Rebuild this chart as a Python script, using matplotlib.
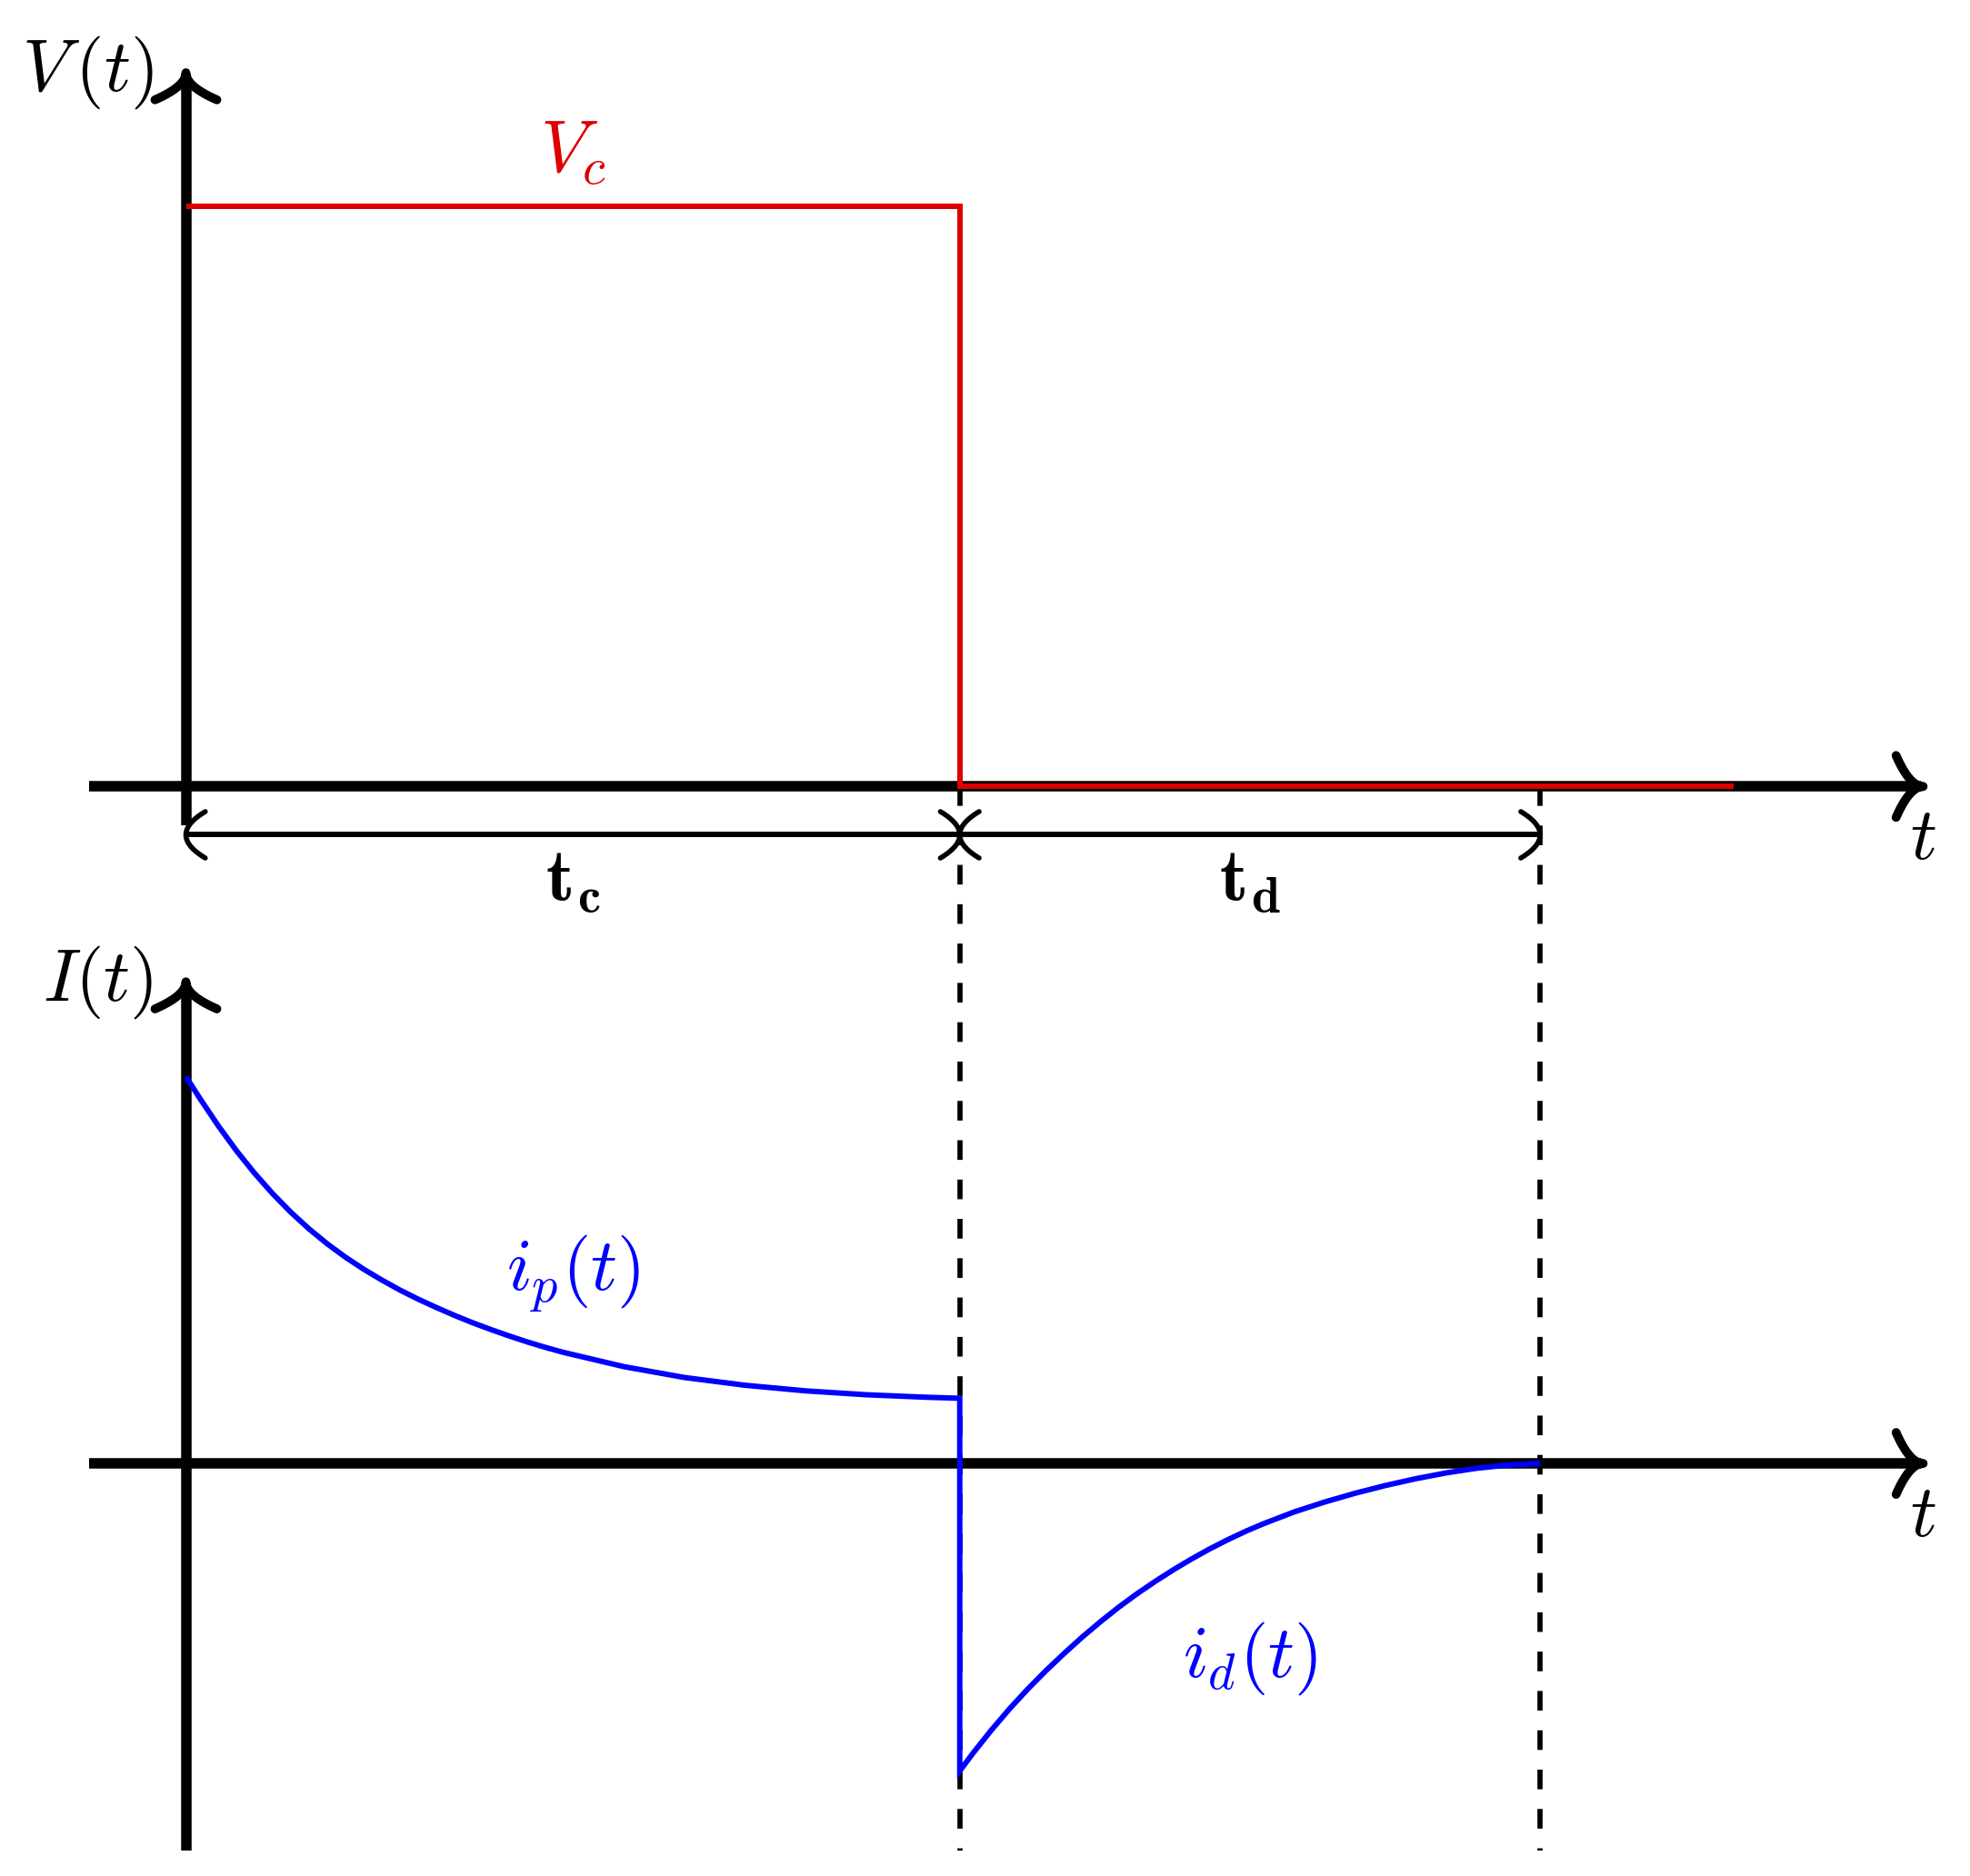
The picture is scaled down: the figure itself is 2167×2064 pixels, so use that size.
import matplotlib
matplotlib.use("Agg")
import matplotlib.pyplot as plt
import numpy as np

plt.rcParams['mathtext.fontset'] = 'cm'

# time markers and charging voltage (diagram units)
t_c = 4.0
t_d = 3.0
V_c = 3.0
t_end_v = 8.0

# voltage step V(t)
v_t = [0, t_c, t_c, t_end_v]
v_vals = [V_c, V_c, 0, 0]

# polarisation current i_p(t), t from 0 to t_c
ip_t = [0, 0.073, 0.167, 0.261, 0.355, 0.449, 0.543, 0.637, 0.731, 0.825,
        0.919, 1.013, 1.107, 1.201, 1.295, 1.389, 1.483, 1.577, 1.671, 1.765,
        1.858, 1.952, 2.266, 2.579, 2.892, 3.206, 3.519, 3.832, 4.0]
ip_vals = [2.00, 1.886, 1.746, 1.617, 1.500, 1.394, 1.298, 1.212, 1.135,
           1.066, 1.004, 0.948, 0.896, 0.849, 0.806, 0.765, 0.727, 0.692,
           0.659, 0.628, 0.600, 0.574, 0.500, 0.444, 0.404, 0.375, 0.355,
           0.342, 0.337]

# depolarisation current i_d(t), t measured from t_c
id_t = [0, 0.07, 0.164, 0.258, 0.352, 0.446, 0.541, 0.635, 0.729, 0.822,
        0.916, 1.010, 1.104, 1.198, 1.292, 1.386, 1.480, 1.574, 1.731, 1.888,
        2.044, 2.201, 2.357, 2.514, 2.671, 2.827, 3.0]
id_vals = [-1.59, -1.496, -1.378, -1.268, -1.166, -1.071, -0.981, -0.896,
           -0.817, -0.743, -0.674, -0.610, -0.550, -0.494, -0.442, -0.394,
           -0.350, -0.310, -0.250, -0.199, -0.154, -0.114, -0.079, -0.049,
           -0.025, -0.009, 0.0]

# vertical offset of the V(t) panel above the I(t) panel
top = 3.5

fig = plt.figure(figsize=(21.67, 20.64), dpi=100)
ax = fig.add_axes([0, 0, 1, 1])
ax.set_xlim(-0.961, 9.222)
ax.set_ylim(-2.133, 7.566)
ax.axis('off')

AX_LW = 8.3
FS = 58


def head(tip, d, L, W, p, lw, color='black'):
    # TikZ-like "to" arrow tip
    s = np.linspace(-1, 1, 61)
    back = L * np.abs(s) ** p
    dx, dy = d
    x = tip[0] - back * dx - W * s * dy
    y = tip[1] - back * dy + W * s * dx
    ax.plot(x, y, color=color, lw=lw, solid_capstyle='round',
            solid_joinstyle='round', zorder=3)


# axes
for y0, ybot, ytip in [(top, top - 0.2, top + 3.69), (0, -2.0, 2.49)]:
    ax.plot([-0.5, 8.97], [y0, y0], color='black', lw=AX_LW,
            solid_capstyle='butt', zorder=2)
    head((8.98, y0), (1, 0), 0.14, 0.16, 0.5, 7.0)
    ax.plot([0, 0], [ybot, ytip - 0.03], color='black', lw=AX_LW,
            solid_capstyle='butt', zorder=2)
    head((0, ytip), (0, 1), 0.14, 0.16, 0.5, 7.0)
    ax.text(8.98, y0 - 0.27, r'$t$', fontsize=FS, ha='center', va='center')

ax.text(-0.17, top + 3.69, r'$V\,(t)$', fontsize=FS, ha='right', va='center')
ax.text(-0.17, 2.49, r'$I(t)$', fontsize=FS, ha='right', va='center')

# voltage
ax.plot(v_t, np.array(v_vals) + top, color='#dd0000', lw=4.3,
        solid_joinstyle='miter', solid_capstyle='butt', zorder=4)
ax.text(t_c / 2, top + 3.28, r'$V_c$', fontsize=FS, color='#dd0000',
        ha='center', va='center')

# currents
cur_t = list(ip_t) + [t_c + v for v in id_t]
cur_vals = list(ip_vals) + list(id_vals)
ax.plot(cur_t, cur_vals, color='#0000ff', lw=4.3, solid_joinstyle='miter',
        solid_capstyle='butt', zorder=4)
ax.text(t_c / 2, 0.98, r'$i_p(t)$', fontsize=FS, color='#0000ff',
        ha='center', va='center')
ax.text(t_c + t_d / 2, -1.01, r'$i_d(t)$', fontsize=FS, color='#0000ff',
        ha='center', va='center')

# dashed guides
for xg in [t_c, t_c + t_d]:
    ax.plot([xg, xg], [top, -2.0], color='black', lw=4.1,
            linestyle=(0, (3.8, 3.8)), zorder=1)

# dimension arrows
ydim = top - 0.25
ax.plot([0, t_c + t_d], [ydim, ydim], color='black', lw=4.3, zorder=3)
for tip, d in [(0, -1), (t_c, 1), (t_c, -1), (t_c + t_d, 1)]:
    head((tip, ydim), (d, 0), 0.10, 0.12, 2.0, 4.0)
ax.text(t_c / 2, top - 0.49, r'$\mathbf{t}_{\mathbf{c}}$', fontsize=FS,
        ha='center', va='center')
ax.text(t_c + t_d / 2, top - 0.49, r'$\mathbf{t}_{\mathbf{d}}$', fontsize=FS,
        ha='center', va='center')

fig.savefig('out.png', dpi=100, facecolor='white')
